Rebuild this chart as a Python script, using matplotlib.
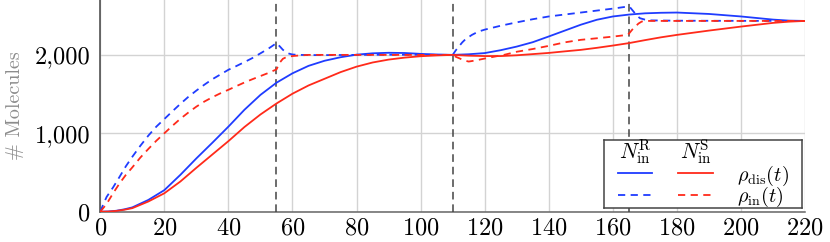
import matplotlib
matplotlib.use('Agg')
from matplotlib import pyplot as plt
from matplotlib.ticker import FuncFormatter

plt.rcParams['font.family'] = 'cmr10'
plt.rcParams['mathtext.fontset'] = 'cm'
plt.rcParams['axes.formatter.use_mathtext'] = True
plt.rcParams['font.size'] = 17

# N^R_in, rho_dis(t)  (blue, solid)
t_r_dis = [0, 2.5, 5, 7.5, 10, 15, 20, 25, 30, 35, 40, 45, 50, 55, 60, 65, 70, 75, 80, 85, 90, 95,
           100, 105, 110, 115, 120, 125, 130, 135, 140, 145, 150, 155, 160, 165, 170, 175, 180,
           190, 200, 210, 215, 220]
r_dis = [0, 3, 12, 30, 55, 150, 275, 470, 680, 880, 1085, 1300, 1490, 1645, 1765, 1860, 1925, 1970,
         2003, 2020, 2027, 2024, 2013, 2005, 2000, 2008, 2023, 2060, 2106, 2162, 2235, 2310, 2385,
         2448, 2490, 2514, 2530, 2537, 2540, 2522, 2490, 2450, 2437, 2433]

# N^S_in, rho_dis(t)  (red, solid)
t_s_dis = [0, 2.5, 5, 7.5, 10, 15, 20, 25, 30, 35, 40, 45, 50, 55, 60, 65, 70, 75, 80, 85, 90, 95,
           100, 105, 110, 115, 120, 125, 130, 135, 140, 145, 150, 155, 160, 165, 170, 175, 180,
           190, 200, 210, 215, 220]
s_dis = [0, 2, 10, 25, 45, 130, 235, 385, 560, 730, 900, 1080, 1240, 1380, 1505, 1610, 1695, 1780,
         1850, 1903, 1940, 1965, 1983, 1993, 2000, 1990, 1985, 1985, 1995, 2010, 2025, 2045, 2064,
         2090, 2119, 2150, 2188, 2224, 2255, 2310, 2361, 2408, 2424, 2433]

# N^R_in, rho_in(t)  (blue, dashed)
t_r_in = [0, 1, 2, 4, 6, 8, 10, 12.5, 15, 17.5, 20, 22.5, 25, 27.5, 30, 32.5, 35, 37.5, 40, 42.5,
          45, 47.5, 50, 52.5, 55, 56, 57, 58, 59, 60, 62, 65, 70, 80, 90, 100, 110,
          111, 112, 113, 114, 116, 118, 120, 125, 130, 135, 140, 145, 150, 155, 160, 164.5,
          165.5, 166.5, 167.5, 168.5, 170, 172, 180, 200, 220]
r_in = [0, 100, 190, 310, 443, 580, 700, 840, 970, 1085, 1182, 1280, 1375, 1465, 1545, 1620, 1690,
        1750, 1810, 1858, 1908, 1960, 2020, 2080, 2150, 2110, 2065, 2035, 2015, 2005, 2000, 1998,
        1997, 2000, 2002, 2001, 2000,
        2060, 2110, 2160, 2200, 2255, 2297, 2322, 2372, 2415, 2455, 2490, 2515, 2540, 2565, 2590,
        2616, 2600, 2550, 2500, 2467, 2450, 2440, 2436, 2434, 2433]

# N^S_in, rho_in(t)  (red, dashed)
t_s_in = [0, 2, 4, 6, 8, 10, 12.5, 15, 17.5, 20, 22.5, 25, 27.5, 30, 32.5, 35, 37.5, 40, 42.5, 45,
          47.5, 50, 52.5, 55, 56, 57, 58, 60, 62, 65, 80, 100, 110,
          111, 112, 113.5, 115, 117, 119, 122, 126, 130, 135, 140, 145, 150, 155, 160, 164.5,
          165, 166, 167, 168, 169, 170, 220]
s_in = [0, 100, 235, 360, 470, 565, 690, 800, 905, 1000, 1095, 1185, 1265, 1340, 1405, 1460, 1510,
        1555, 1602, 1648, 1690, 1730, 1770, 1815, 1900, 1950, 1970, 1985, 1992, 2000, 2000, 2000,
        2000,
        1975, 1958, 1930, 1915, 1928, 1945, 1970, 2000, 2040, 2075, 2115, 2160, 2192, 2212, 2233,
        2255, 2270, 2320, 2361, 2400, 2425, 2433, 2433]

switch_times = [55, 110, 165]
xticks = list(range(0, 221, 20))
yticks = [0, 1000, 2000]

blue = '#1f3cff'
red = '#ff2a1a'

fig = plt.figure(figsize=(8.3, 2.42), dpi=100)
ax = fig.add_axes([0.1208, 0.1252, 0.8492, 0.8748])

for t in switch_times:
    ax.axvline(t, color='#444444', lw=1.1, dashes=(5, 3.2), zorder=3)

ax.plot(t_r_dis, r_dis, color=blue, lw=1.3, zorder=4)
ax.plot(t_r_in, r_in, color=blue, lw=1.3, dashes=(4, 3), zorder=4)
ax.plot(t_s_dis, s_dis, color=red, lw=1.3, zorder=4)
ax.plot(t_s_in, s_in, color=red, lw=1.3, dashes=(4, 3), zorder=4)

ax.set_xlim(0, 220)
ax.set_ylim(0, 2700)
ax.set_xticks(xticks)
ax.set_yticks(yticks)
ax.yaxis.set_major_formatter(FuncFormatter(lambda v, p: f'{int(v):,}'))
ax.tick_params(length=0, labelsize=17.5)
ax.tick_params(axis='x', pad=4)
ax.tick_params(axis='y', pad=7)
ax.grid(True, color='#d3d3d3', lw=1)
ax.set_axisbelow(True)
for s in ['top', 'right']:
    ax.spines[s].set_visible(False)
ax.spines['left'].set_color('#444444')
ax.spines['bottom'].set_color('#666666')
ax.spines['left'].set_linewidth(1.1)
ax.spines['bottom'].set_linewidth(1.1)
ax.set_ylabel('# Molecules', color='#8c8c8c', fontsize=14.5, labelpad=8)

# legend box
leg = ax.inset_axes([0.715, 0.016, 0.281, 0.323])
leg.set_zorder(6)
leg.set_xlim(0, 1)
leg.set_ylim(0, 1)
leg.set_xticks([])
leg.set_yticks([])
leg.set_facecolor('white')
for s in leg.spines.values():
    s.set_color('#444444')
    s.set_linewidth(1.1)
leg.text(0.155, 0.82, r'$N_{\mathrm{in}}^{\mathrm{R}}$', ha='center', va='center', fontsize=15.5)
leg.text(0.462, 0.82, r'$N_{\mathrm{in}}^{\mathrm{S}}$', ha='center', va='center', fontsize=15.5)
leg.plot([0.068, 0.242], [0.52, 0.52], color=blue, lw=1.3)
leg.plot([0.374, 0.551], [0.52, 0.52], color=red, lw=1.3)
leg.plot([0.068, 0.242], [0.195, 0.195], color=blue, lw=1.3, dashes=(4, 3))
leg.plot([0.374, 0.551], [0.195, 0.195], color=red, lw=1.3, dashes=(4, 3))
leg.text(0.67, 0.48, r'$\rho_{\mathrm{dis}}(t)$', ha='left', va='center', fontsize=14.5)
leg.text(0.67, 0.16, r'$\rho_{\mathrm{in}}(t)$', ha='left', va='center', fontsize=14.5)

fig.savefig('out.png', dpi=100)
